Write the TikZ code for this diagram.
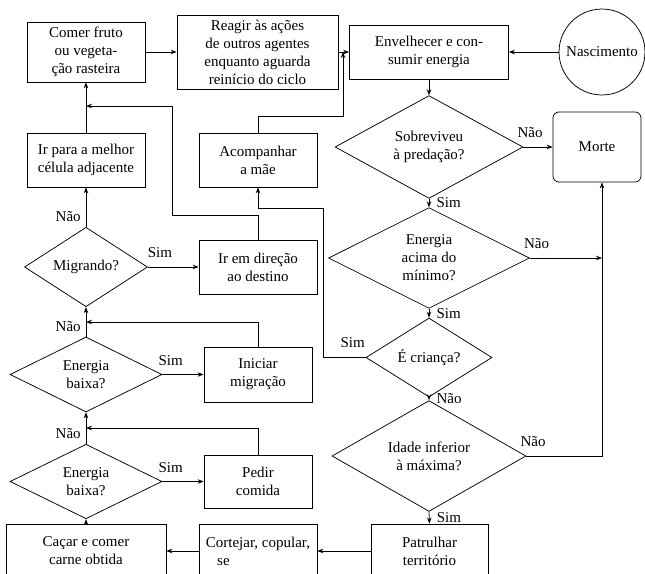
\documentclass[tikz,border=0pt]{standalone}
\usepackage{fontspec}
\setmainfont{Liberation Serif}
\usetikzlibrary{arrows.meta,positioning,shapes.geometric}
\tikzset{
  caixa/.style={draw, rectangle, align=center, inner sep=2pt},
  decisao/.style={draw, diamond, align=center, inner sep=0pt},
  seta/.style={-{Stealth[length=4pt,width=3pt]}},
  rotulo/.style={inner sep=3.3pt},
}

\begin{document}
\begin{tikzpicture}[x=0.6667pt, y=-0.6667pt, line width=0.5pt]
  \useasboundingbox (0,0) rectangle (645,574);
  \clip (0,0) rectangle (645,574);

  % linha de cima
  \node[caixa, minimum width=78.7pt, minimum height=40pt] (comer) at (86,52) {Comer fruto\\ou vegeta-\\ção rasteira};
  \node[caixa, minimum width=107.3pt, minimum height=49.3pt] (reagir) at (257.5,52) {Reagir às ações\\de outros agentes\\enquanto aguarda\\reinício do ciclo};
  \node[caixa, minimum width=106pt, minimum height=36pt] (envelhecer) at (429,52) {Envelhecer e con-\\sumir energia};
  \node[draw, circle, minimum size=57.3pt, inner sep=0pt] (nascimento) at (602,52) {Nascimento};

  % coluna da direita
  \node[decisao, minimum width=125.3pt, minimum height=63.3pt] (sobreviveu) at (429,147) {Sobreviveu\\à predação?};
  \node[caixa, rounded corners=4pt, minimum width=58.7pt, minimum height=46.7pt] (morte) at (597,147) {Morte};
  \node[decisao, minimum width=134pt, minimum height=66.7pt] (acima) at (429,258) {Energia\\acima do\\mínimo?};
  \node[decisao, minimum width=84pt, minimum height=40.7pt] (crianca) at (429,357.5) {É criança?};
  \node[decisao, minimum width=129.3pt, minimum height=64pt] (idade) at (429,456) {Idade inferior\\à máxima?};
  \node[caixa, minimum width=78pt, minimum height=36pt] (patrulhar) at (429.5,551) {Patrulhar\\território};
  \coordinate (juncao) at (602,258);

  % coluna do meio
  \node[caixa, minimum width=78.7pt, minimum height=36pt] (acompanhar) at (258,160) {Acompanhar\\a mãe};
  \node[caixa, minimum width=78.7pt, minimum height=36pt] (direcao) at (258,267) {Ir em direção\\ao destino};
  \node[caixa, minimum width=72pt, minimum height=36.7pt] (iniciar) at (258,374.5) {Iniciar\\migração};
  \node[caixa, minimum width=72pt, minimum height=35.3pt] (pedir) at (258,481.5) {Pedir\\comida};
  \node[caixa, align=left, minimum width=78.7pt, minimum height=36pt] (cortejar) at (258,551) {Cortejar, copular,\\\hspace*{0.75em}se};
  \coordinate (desvio) at (343,116);
  \coordinate (volta) at (323,208);
  \coordinate (subida) at (172,215);

  % coluna da esquerda
  \node[caixa, minimum width=78.7pt, minimum height=36pt] (irmelhor) at (86,160) {Ir para a melhor\\célula adjacente};
  \node[decisao, minimum width=82pt, minimum height=40.7pt] (migrando) at (86,267) {Migrando?};
  \node[decisao, minimum width=101.3pt, minimum height=50pt] (baixa1) at (86,374.5) {Energia\\baixa?};
  \node[decisao, minimum width=101.3pt, minimum height=48.7pt] (baixa2) at (86,481.5) {Energia\\baixa?};
  \node[caixa, minimum width=106.7pt, minimum height=36pt] (cacar) at (86,551) {Caçar e comer\\carne obtida};
  \coordinate (retorno) at (86,106);
  \coordinate (ret1) at (86,322);
  \coordinate (ret2) at (86,428);

  % ligacoes
  \draw[seta] (comer) -- (reagir);
  \draw[seta] (reagir) -- (envelhecer);
  \draw[seta] (nascimento) -- (envelhecer);
  \draw[seta] (envelhecer) -- (sobreviveu);
  \draw[seta] (sobreviveu.east) node[rotulo, above, xshift=4.5pt, yshift=3pt] (nao1) {Não} -- (morte.west);
  \draw[seta] (sobreviveu.south) -- node[rotulo, right, xshift=1.5pt] (sim1) {Sim} (acima.north);
  \draw[seta] (acima.east) node[rotulo, above, xshift=4.5pt, yshift=3pt] (nao2) {Não} -- (juncao);
  \draw[seta] (acima.south) -- node[rotulo, right, xshift=1.5pt] (sim2) {Sim} (crianca.north);
  \draw[seta] (crianca.west) node[rotulo, above left, xshift=3pt, yshift=3pt] (sim3) {Sim} -| (volta) -| (acompanhar.south);
  \draw[seta] (crianca.south) -- node[rotulo, right, xshift=1.5pt] (nao3) {Não} (idade.north);
  \draw[seta] (idade.east) node[rotulo, above, xshift=4.5pt, yshift=3pt] (nao4) {Não} -| (juncao |- morte.south);
  \draw[seta] (idade.south) -- node[rotulo, right, xshift=1.5pt] (sim4) {Sim} (patrulhar.north);
  \draw[seta] (patrulhar) -- (cortejar);
  \draw[seta] (cortejar) -- (cacar);
  \draw[seta] (acompanhar.north) |- (desvio) -- (desvio |- envelhecer.west);

  \draw[seta] (cacar.north) -- (baixa2.south);
  \draw[seta] (baixa2.east) node[rotulo, above, xshift=5.5pt, yshift=2.5pt] (sim5) {Sim} -- (pedir.west);
  \draw[seta] (baixa2.north) node[rotulo, above left] (nao5) {Não} -- (baixa1.south);
  \draw[seta] (pedir.north) |- (ret2);
  \draw[seta] (baixa1.east) node[rotulo, above, xshift=5.5pt, yshift=2.5pt] (sim6) {Sim} -- (iniciar.west);
  \draw[seta] (baixa1.north) node[rotulo, above left] (nao6) {Não} -- (migrando.south);
  \draw[seta] (iniciar.north) |- (ret1);
  \draw[seta] (migrando.east) node[rotulo, above, xshift=8pt, yshift=2.5pt] (sim7) {Sim} -- (direcao.west);
  \draw[seta] (migrando.north) node[rotulo, above left] (nao7) {Não} -- (irmelhor.south);
  \draw[seta] (direcao.north) |- (subida) |- (retorno);
  \draw[seta] (irmelhor) -- (comer);
\end{tikzpicture}
\end{document}
